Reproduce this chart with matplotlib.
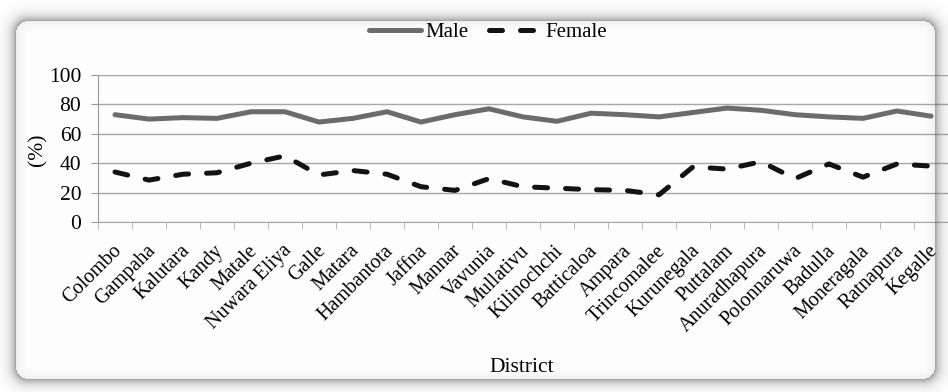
import matplotlib
matplotlib.use("Agg")
import matplotlib.pyplot as plt
import matplotlib.transforms as mtransforms
import numpy as np

districts = ["Colombo", "Gampaha", "Kalutara", "Kandy", "Matale", "Nuwara Eliya",
             "Galle", "Matara", "Hambantota", "Jaffna", "Mannar", "Vavunia",
             "Mullativu", "Kilinochchi", "Batticaloa", "Ampara", "Trincomalee",
             "Kurunegala", "Puttalam", "Anuradhapura", "Polonnaruwa", "Badulla",
             "Moneragala", "Ratnapura", "Kegalle"]
male = [73, 70, 71, 70.5, 75, 75, 68, 70.5, 75, 68, 73, 77,
        71.5, 68.5, 74, 73, 71.5, 74.5, 77.5, 76, 73, 71.5, 70.5, 75.5, 72]
female = [34, 28.5, 32.5, 33.5, 40, 45, 32, 35, 32.5, 24, 21.5, 29.5,
          24, 23, 22, 21.5, 18.5, 37.5, 36, 41, 29.5, 39.5, 30.5, 39.5, 38]
yticks = [0, 20, 40, 60, 80, 100]

plt.rcParams["font.family"] = ["Liberation Serif", "DejaVu Serif"]

W, H = 948, 392
fig = plt.figure(figsize=(W / 100, H / 100), dpi=100, facecolor="white")
ax = fig.add_axes([98 / W, 1 - 222 / H, (948 - 98) / W, (222 - 75) / H])
ax.patch.set_visible(False)

x = np.arange(len(districts))
ax.plot(x, male, color="#6c6c6c", lw=3.6, solid_capstyle="round",
        solid_joinstyle="round", label="Male", zorder=3)
ax.plot(x, female, color="#121212", lw=3.6, dashes=(2.6, 3.6), dash_capstyle="round",
        dash_joinstyle="round", label="Female", zorder=3)

ax.set_xlim(-0.5, len(districts) - 0.5)
ax.set_ylim(0, 100)
ax.set_yticks(yticks)
ax.tick_params(axis="y", labelsize=15.5, length=5, color="#999999", pad=7)
ax.set_xticks(x)
ax.set_xticklabels(districts, rotation=45, ha="right", va="top",
                   rotation_mode="anchor", fontsize=14.5)
ax.tick_params(axis="x", which="major", length=0, pad=14)
shift = mtransforms.ScaledTranslation(-3 / 100, 0, fig.dpi_scale_trans)
for lab in ax.get_xticklabels():
    lab.set_transform(lab.get_transform() + shift)
ax.set_xticks(np.arange(-0.5, len(districts), 1), minor=True)
ax.tick_params(axis="x", which="minor", length=5, color="#b0b0b0")
ax.yaxis.grid(True, color="#a8a8a8", lw=1.0)
ax.set_axisbelow(True)
for s in ["top", "right"]:
    ax.spines[s].set_visible(False)
ax.spines["left"].set_color("#999999")
ax.spines["bottom"].set_color("#aaaaaa")

fig.text(38 / W, 1 - 150 / H, "(%)", fontsize=15.5, rotation=90,
         ha="center", va="center")
fig.text(522 / W, 1 - 367 / H, "District", fontsize=15.5, ha="center", va="center")

fig.legend(loc="center", bbox_to_anchor=(488 / W, 1 - 32 / H), ncol=2, frameon=False,
           fontsize=15, handlelength=2.5, handletextpad=0.2, columnspacing=1.0)

# soft drop shadow framing the chart
x0, x1, y0, y1, r = 16, 935, 21, 379, 12
yy, xx = np.mgrid[0:H, 0:W] + 0.5
dx = np.maximum(np.maximum(x0 + r - xx, xx - (x1 - r)), 0)
dy = np.maximum(np.maximum(y0 + r - yy, yy - (y1 - r)), 0)
d = np.hypot(dx, dy) - r
alpha = np.where(d > 0, 0.58 * np.exp(-d / 5.5), 0.10 * np.exp(d / 6.0))
shade = np.zeros((H, W, 4))
shade[..., :3] = 0.35
shade[..., 3] = np.clip(alpha, 0, 1)
fig.figimage(shade, xo=0, yo=0, origin="upper", zorder=5)

fig.savefig("out.png", dpi=100)
